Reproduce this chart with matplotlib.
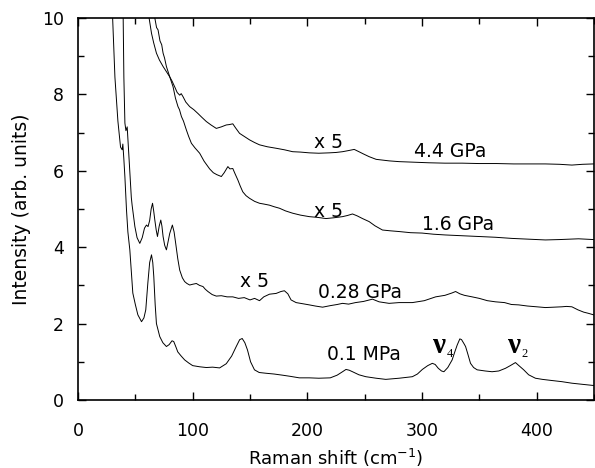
import numpy as np
import matplotlib
matplotlib.use("Agg")
import matplotlib.pyplot as plt
from matplotlib.ticker import MultipleLocator

# Raman spectra (shift in cm-1, intensity in arb. units)
shift_01mpa = [29.5, 30.2, 32.2, 34.8, 37.1, 38.5, 39.1, 40.0, 40.9, 42.3, 43.5, 45.2, 47.8, 50.0,
               52.2, 55.4, 57.5, 59.1, 60.9, 62.5, 64.1, 65.2, 66.1, 67.3, 68.4, 71.3, 74.0, 77.1,
               79.5, 82.0, 83.5, 85.5, 87.0, 90.0, 93.0, 96.5, 100.0, 106.0, 111.9, 117.4, 123.5,
               129.3, 134.0, 138.0, 141.0, 143.2, 145.5, 147.8, 150.5, 153.9, 158.0, 164.0, 171.0,
               178.3, 185.0, 193.0, 201.7, 210.0, 220.0, 226.0, 230.7, 233.7, 236.5, 239.4, 245.0,
               251.0, 260.0, 268.4, 280.0, 291.6, 296.0, 300.3, 305.0, 309.0, 311.5, 314.2, 317.0,
               319.1, 322.5, 326.3, 328.5, 330.7, 333.0, 334.5, 336.5, 338.0, 340.0, 342.3, 345.0,
               348.1, 355.0, 361.1, 367.0, 372.8, 377.0, 381.5, 384.5, 388.7, 393.0, 398.9, 405.0,
               413.3, 422.0, 430.7, 440.0, 449.6]
int_01mpa = [10.6, 10.0, 8.45, 7.3, 6.62, 6.55, 6.7, 6.3, 5.84, 4.97, 4.4, 3.93, 2.8, 2.5,
             2.23, 2.05, 2.15, 2.36, 3.06, 3.6, 3.8, 3.6, 3.23, 2.5, 2.0, 1.66, 1.5, 1.4,
             1.45, 1.55, 1.53, 1.38, 1.26, 1.15, 1.05, 0.97, 0.9, 0.87, 0.85, 0.86, 0.84,
             0.95, 1.15, 1.4, 1.58, 1.61, 1.5, 1.31, 1.0, 0.79, 0.72, 0.7, 0.68,
             0.65, 0.62, 0.58, 0.58, 0.57, 0.58, 0.65, 0.74, 0.8, 0.78, 0.74, 0.66,
             0.61, 0.57, 0.54, 0.57, 0.61, 0.68, 0.8, 0.9, 0.96, 0.93, 0.83, 0.76,
             0.74, 0.85, 1.05, 1.25, 1.44, 1.6, 1.58, 1.48, 1.4, 1.2, 0.96, 0.85,
             0.79, 0.76, 0.74, 0.76, 0.83, 0.9, 0.98, 0.9, 0.79, 0.66, 0.57, 0.54,
             0.51, 0.48, 0.44, 0.41, 0.38]

shift_028gpa = [39.2, 39.4, 40.0, 40.9, 41.8, 42.9, 44.6, 46.5, 47.2, 49.6, 51.5, 53.9, 56.0, 58.0,
                59.7, 61.1, 62.5, 63.8, 65.0, 66.0, 67.0, 68.2, 69.3, 70.8, 72.2, 73.2, 74.2, 75.6,
                77.1, 78.6, 80.0, 82.3, 83.8, 85.2, 87.0, 88.7, 91.0, 93.0, 95.0, 97.4, 100.0, 103.2,
                106.0, 109.0, 111.0, 113.3, 117.0, 120.6, 125.0, 130.0, 135.0, 140.0, 145.0, 150.0,
                154.0, 158.3, 162.0, 167.0, 172.8, 177.0, 180.0, 183.0, 185.8, 190.2, 196.0, 201.7,
                207.0, 213.3, 220.0, 226.0, 230.7, 236.0, 242.0, 249.0, 256.8, 262.6, 271.3, 280.0,
                291.6, 302.0, 311.9, 320.0, 326.0, 329.3, 333.0, 337.0, 343.7, 350.0, 357.0, 364.1,
                372.0, 378.0, 384.3, 392.0, 400.0, 407.6, 415.0, 422.0, 426.0, 430.7, 436.0, 441.0,
                445.0, 449.6]
int_028gpa = [10.4, 10.0, 8.45, 7.25, 7.05, 7.15, 6.28, 5.3, 5.1, 4.54, 4.25, 4.1, 4.25, 4.5,
              4.58, 4.54, 4.7, 5.0, 5.15, 4.95, 4.71, 4.45, 4.28, 4.55, 4.71, 4.55, 4.28, 4.05,
              3.93, 4.15, 4.36, 4.58, 4.4, 4.1, 3.7, 3.4, 3.2, 3.1, 3.05, 3.01, 3.03, 3.05,
              3.0, 2.97, 2.9, 2.84, 2.76, 2.72, 2.73, 2.7, 2.7, 2.66, 2.68, 2.62,
              2.66, 2.6, 2.7, 2.77, 2.79, 2.84, 2.86, 2.78, 2.62, 2.55, 2.52, 2.49,
              2.46, 2.43, 2.47, 2.5, 2.53, 2.51, 2.55, 2.58, 2.64, 2.57, 2.53, 2.55,
              2.55, 2.6, 2.7, 2.74, 2.8, 2.84, 2.78, 2.74, 2.7, 2.66, 2.6, 2.57,
              2.55, 2.5, 2.49, 2.46, 2.44, 2.42, 2.43, 2.44, 2.45, 2.44, 2.36, 2.3,
              2.27, 2.23]

shift_16gpa = [66.7, 67.0, 68.5, 69.8, 71.5, 73.0, 74.2, 75.5, 77.1, 78.5, 80.0, 82.9, 85.0, 87.2,
               88.5, 90.2, 92.0, 94.5, 96.5, 98.9, 102.0, 106.1, 110.0, 114.8, 118.0, 121.0, 125.0,
               127.5, 130.7, 132.5, 135.0, 137.0, 139.4, 141.5, 143.7, 146.5, 149.6, 154.0, 158.3,
               162.0, 167.0, 171.0, 175.7, 181.0, 187.2, 194.0, 201.7, 209.0, 216.3, 223.0, 230.7,
               235.0, 239.4, 243.5, 248.1, 253.9, 259.0, 265.5, 272.0, 280.0, 290.0, 300.0, 310.0,
               320.6, 335.0, 349.6, 364.0, 378.5, 393.0, 407.6, 420.0, 436.5, 449.6]
int_16gpa = [10.3, 10.0, 9.75, 9.69, 9.4, 9.3, 9.08, 8.95, 8.73, 8.6, 8.46, 8.2, 7.9, 7.68,
             7.6, 7.42, 7.3, 7.07, 6.9, 6.72, 6.6, 6.46, 6.25, 6.05, 5.95, 5.9, 5.85,
             5.95, 6.11, 6.05, 6.06, 5.92, 5.76, 5.6, 5.45, 5.35, 5.28, 5.2, 5.15,
             5.13, 5.1, 5.06, 5.02, 4.95, 4.89, 4.84, 4.8, 4.78, 4.75, 4.77, 4.8,
             4.83, 4.87, 4.82, 4.75, 4.67, 4.56, 4.45, 4.43, 4.41, 4.38, 4.37, 4.34,
             4.32, 4.3, 4.28, 4.26, 4.23, 4.21, 4.19, 4.2, 4.22, 4.2]

shift_44gpa = [61.8, 62.0, 64.1, 66.0, 68.4, 71.0, 74.2, 77.0, 80.0, 82.0, 84.3, 86.5, 88.7, 90.0,
               91.6, 94.0, 97.4, 101.0, 104.6, 108.0, 111.9, 116.0, 120.6, 125.0, 129.3, 132.0,
               135.0, 137.5, 140.9, 145.0, 149.6, 154.0, 158.3, 165.0, 172.8, 180.0, 187.2, 194.0,
               201.7, 210.0, 219.1, 225.0, 230.7, 236.0, 240.9, 245.0, 249.0, 253.9, 260.0, 271.3,
               280.0, 288.7, 306.1, 320.0, 335.0, 349.6, 365.0, 380.0, 395.0, 407.6, 420.0, 430.7,
               440.0, 449.6]
int_44gpa = [10.3, 10.0, 9.6, 9.35, 9.08, 8.9, 8.73, 8.6, 8.46, 8.35, 8.2, 8.05, 7.98, 8.02,
             7.94, 7.8, 7.68, 7.6, 7.5, 7.4, 7.29, 7.2, 7.11, 7.15, 7.2, 7.21,
             7.23, 7.12, 6.98, 6.9, 6.81, 6.74, 6.68, 6.63, 6.59, 6.55, 6.5, 6.49,
             6.47, 6.46, 6.47, 6.48, 6.5, 6.53, 6.56, 6.5, 6.44, 6.37, 6.3, 6.26,
             6.24, 6.23, 6.21, 6.2, 6.2, 6.19, 6.19, 6.18, 6.18, 6.18, 6.17, 6.15,
             6.17, 6.18]

spectra = [(shift_01mpa, int_01mpa), (shift_028gpa, int_028gpa),
           (shift_16gpa, int_16gpa), (shift_44gpa, int_44gpa)]

# annotations: (text, x, baseline y)
labels = [("x 5", 206, 6.6), ("4.4 GPa", 293, 6.36),
          ("x 5", 206, 4.79), ("1.6 GPa", 300, 4.45),
          ("x 5", 141, 2.97), ("0.28 GPa", 209, 2.66),
          ("0.1 MPa", 217.5, 1.05)]
# vibrational modes: (subscript, x, baseline y)
modes = [("4", 308.5, 1.22), ("2", 374, 1.22)]

plt.rcParams["font.family"] = "DejaVu Sans"

fig = plt.figure(figsize=(5.95, 4.68), dpi=100)
ax = fig.add_axes([78 / 595, 68 / 468, 516 / 595, 382 / 468])

for x, y in spectra:
    ax.plot(x, y, color="black", lw=0.7)

for txt, x, y in labels:
    ax.text(x, y, txt, fontsize=13.5, ha="left", va="baseline")
for sub, x, y in modes:
    ax.text(x, y, "ν", fontsize=21, family="Liberation Serif", weight="bold",
            ha="left", va="baseline")
    ax.annotate(sub, (x, y), xytext=(10.5, -2.5), textcoords="offset points",
                fontsize=9, family="Liberation Serif", ha="left", va="baseline")

ax.set_xlim(0, 450)
ax.set_ylim(0, 10)
ax.xaxis.set_major_locator(MultipleLocator(100))
ax.xaxis.set_minor_locator(MultipleLocator(50))
ax.yaxis.set_major_locator(MultipleLocator(2))
ax.yaxis.set_minor_locator(MultipleLocator(1))
ax.tick_params(which="both", direction="in", top=True, right=True, width=1.0)
ax.tick_params(which="major", length=5.5, labelsize=12.5)
ax.tick_params(which="minor", length=4)
ax.tick_params(axis="x", which="major", pad=16)
ax.tick_params(axis="y", which="major", pad=10)
for s in ax.spines.values():
    s.set_linewidth(1.2)

ax.set_xlabel(r"Raman shift (cm$^{\mathregular{-1}}$)", fontsize=13, labelpad=5)
ax.set_ylabel("Intensity (arb. units)", fontsize=13.5, labelpad=8)

fig.savefig("out.png", dpi=100)
